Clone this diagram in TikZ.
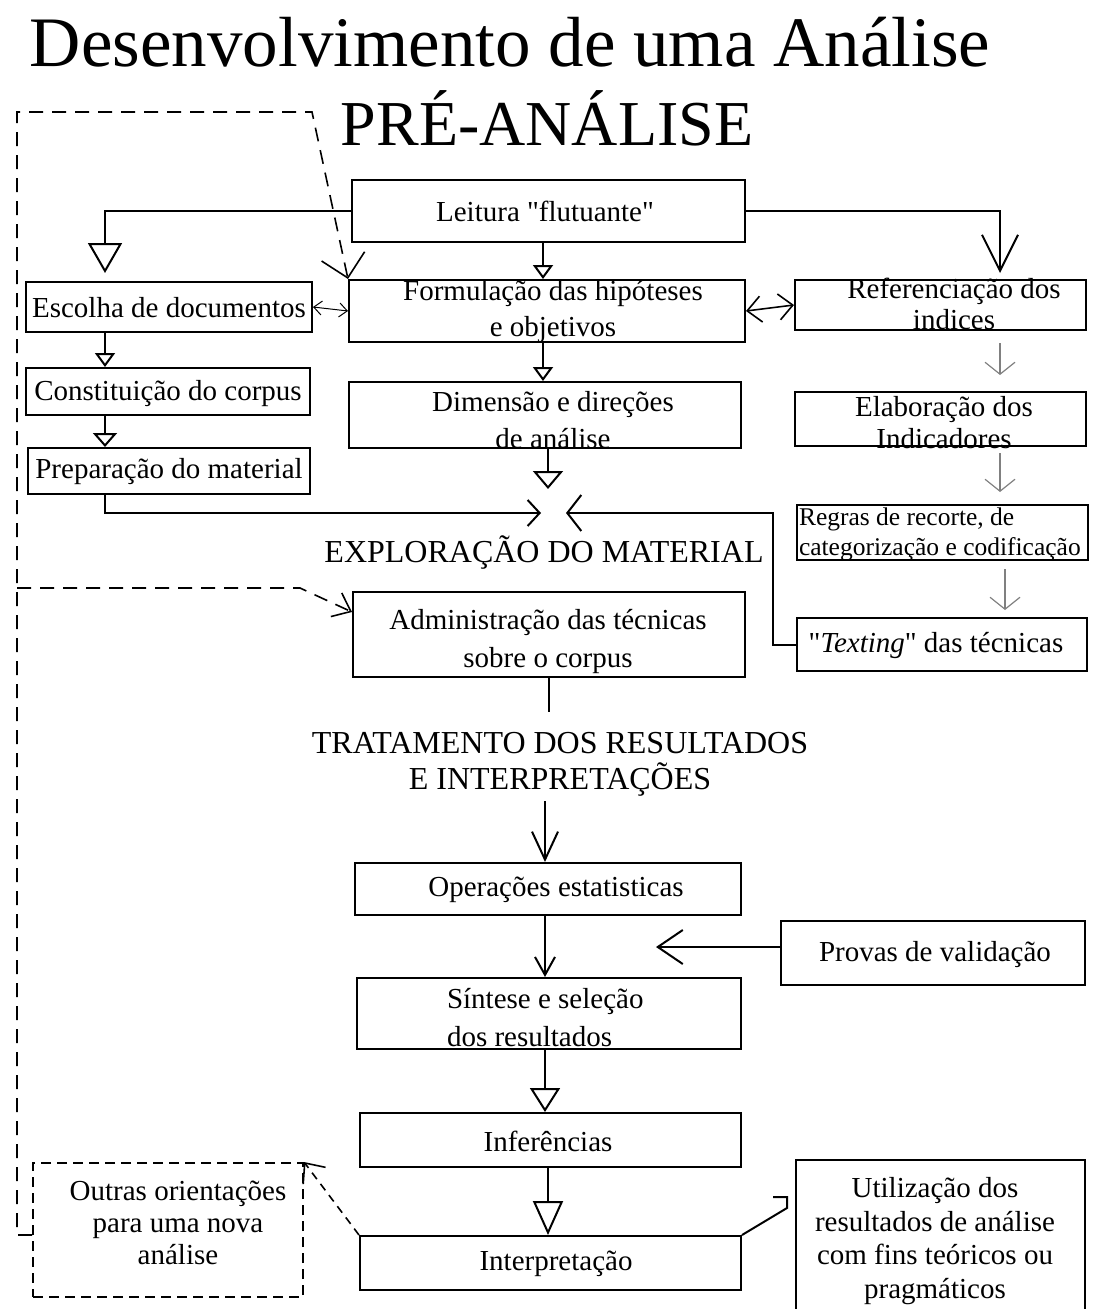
\documentclass[tikz,border=0pt]{standalone}
\usepackage{fontspec}
\setmainfont{Liberation Serif}
\usetikzlibrary{arrows.meta,calc}

\begin{document}
\begin{tikzpicture}[x=1pt,y=-1pt,line width=2pt,
    box/.style={draw,rectangle,inner sep=0pt},
    txt/.style={font=\fontsize{29}{36}\selectfont,align=center,inner sep=0pt},
    head/.style={font=\fontsize{32}{36}\selectfont,align=center,inner sep=0pt},
    loop/.style={dash pattern=on 14pt off 9pt}]
    \useasboundingbox (0,0) rectangle (1104,1309);

    % titles
    \node[font=\fontsize{71}{71}\selectfont,anchor=base,inner sep=0pt] (titulo) at (510,66) {Desenvolvimento de uma Análise};
    \node[font=\fontsize{64}{64}\selectfont,anchor=base,inner sep=0pt] (preanalise) at (547,145) {PRÉ-ANÁLISE};

    % pre-analysis boxes
    \node[box,minimum width=393pt,minimum height=62pt] (lei) at (548.5,211) {};
    \node[txt] (leit) at (545,211) {Leitura \textquotedbl flutuante\textquotedbl};
    \node[box,minimum width=286pt,minimum height=50pt] (esc) at (169,307) {};
    \node[txt] (esct) at (169,308) {Escolha de documentos};
    \node[box,minimum width=396pt,minimum height=62pt] (form) at (547,311) {};
    \node[txt] (formt) at (553,312) {Formulação das hipóteses\\e objetivos};
    \node[box,minimum width=291pt,minimum height=50pt] (ref) at (940.5,305) {};
    \node[txt,font=\fontsize{29}{31}\selectfont] (reft) at (954,304) {Referenciação dos\\indices};
    \node[box,minimum width=284pt,minimum height=47pt] (con) at (168,391.5) {};
    \node[txt] (cont) at (168,394) {Constituição do corpus};
    \node[box,minimum width=392pt,minimum height=66pt] (dim) at (545,415) {};
    \node[txt,font=\fontsize{29}{37}\selectfont] (dimt) at (553,420) {Dimensão e direções\\de análise};
    \node[box,minimum width=291pt,minimum height=54pt] (ela) at (940.5,419) {};
    \node[txt,font=\fontsize{29}{32}\selectfont] (elat) at (944,423) {Elaboração dos\\Indicadores};
    \node[box,minimum width=282pt,minimum height=46pt] (pre) at (169,471) {};
    \node[txt] (pret) at (169,472) {Preparação do material};
    \node[box,minimum width=291pt,minimum height=55pt] (reg) at (942.5,532.5) {};
    \node[txt,font=\fontsize{25.5}{30}\selectfont,align=left,anchor=west] (regt) at (798,534) {Regras de recorte, de\\categorização e codificação};

    % exploration
    \node[head,anchor=base] (expl) at (544,562) {EXPLORAÇÃO DO MATERIAL};
    \node[box,minimum width=392pt,minimum height=85pt] (adm) at (549,634.5) {};
    \node[txt,font=\fontsize{29}{38}\selectfont] (admt) at (548,641) {Administração das técnicas\\sobre o corpus};
    \node[box,minimum width=290pt,minimum height=53pt] (tex) at (942,644.5) {};
    \node[txt] (text) at (936,645) {\textquotedbl\textit{Texting}\textquotedbl\ das técnicas};

    % treatment
    \node[head] (trat) at (560,764) {TRATAMENTO DOS RESULTADOS\\E INTERPRETAÇÕES};
    \node[box,minimum width=386pt,minimum height=52pt] (ope) at (548,889) {};
    \node[txt] (opet) at (556,890) {Operações estatisticas};
    \node[box,minimum width=304pt,minimum height=64pt] (pro) at (933,953) {};
    \node[txt] (prot) at (935,955) {Provas de validação};
    \node[box,minimum width=384pt,minimum height=71pt] (sin) at (549,1013.5) {};
    \node[txt,font=\fontsize{29}{38}\selectfont,align=left,anchor=west] (sint) at (446,1018) {Síntese e seleção\\dos resultados};
    \node[box,minimum width=381pt,minimum height=54pt] (inf) at (550.5,1140) {};
    \node[txt] (inft) at (548,1141) {Inferências};
    \node[box,minimum width=381pt,minimum height=54pt] (int) at (550.5,1263) {};
    \node[txt] (intt) at (556,1264) {Interpretação};
    \node[box,dash pattern=on 10pt off 6pt,minimum width=270pt,minimum height=134pt] (out) at (168,1230) {};
    \node[txt,font=\fontsize{29}{32}\selectfont] (outt) at (178,1223) {Outras orientações\\para uma nova\\análise};
    \node[box,minimum width=289pt,minimum height=170pt] (uti) at (940.5,1245) {};
    \node[txt,font=\fontsize{29}{33.5}\selectfont] (utit) at (935,1241) {Utilização dos\\resultados de análise\\com fins teóricos ou\\pragmáticos};

    % free ends
    \coordinate (escin) at (105,273);
    \coordinate (refin) at (1000,273);
    \coordinate (dimout) at (548,489);
    \coordinate (jl) at (541,513);
    \coordinate (jr) at (566,513);
    \coordinate (admout) at (549,712);
    \coordinate (proin) at (656,947);
    \coordinate (utiin) at (787,1208);

    % pre-analysis connectors
    \draw[-{Triangle[open,length=30pt,width=34pt]}] (lei.west) -| (escin);
    \draw[-{Straight Barb[length=36pt,width=36pt]}] (lei.east) -| (refin);
    \draw[-{Triangle[open,length=14pt,width=20pt]}] (lei.south -| 543,0) -- (form.north -| 543,0);
    \draw[line width=1pt,{Straight Barb[length=8pt,width=14pt]}-{Straight Barb[length=8pt,width=14pt]}] (esc.east) -- (form.west);
    \draw[line width=1.6pt,{Straight Barb[length=14pt,width=26pt]}-{Straight Barb[length=14pt,width=26pt]}] (form.east) -- (ref.west);
    \draw[-{Triangle[open,length=14pt,width=20pt]}] (form.south -| 543,0) -- (dim.north -| 543,0);
    \draw[-{Triangle[open,length=18pt,width=30pt]}] (dim.south -| dimout) -- (dimout);
    \draw[-{Triangle[open,length=14pt,width=20pt]}] (esc.south -| escin) -- (con.north -| escin);
    \draw[-{Triangle[open,length=14pt,width=24pt]}] (con.south -| escin) -- (pre.north -| escin);
    \draw[line width=1.2pt,gray,shorten <=12pt,-{Straight Barb[length=12pt,width=30pt]}] (ref.south -| refin) -- ++(0,44);
    \draw[line width=1.2pt,gray,shorten <=6pt,-{Straight Barb[length=12pt,width=30pt]}] (ela.south -| refin) -- ++(0,45);
    \draw[line width=1.2pt,gray,shorten <=8pt,-{Straight Barb[length=12pt,width=30pt]}] (reg.south -| 1005,0) -- ++(0,49);

    % into exploration
    \draw[-{Straight Barb[length=12pt,width=26pt]}] (pre.south -| escin) |- (jl);
    \draw[-{Straight Barb[length=14pt,width=36pt]}] (tex.west) -- (773,644.5) |- (jr);
    \draw (adm.south) -- (admout);

    % treatment connectors
    \draw[shorten <=4pt,-{Straight Barb[length=28pt,width=26pt]}] (trat.south -| 545,0) -- (ope.north -| 545,0);
    \draw[-{Straight Barb[length=18pt,width=20pt]}] (ope.south -| 545,0) -- (sin.north -| 545,0);
    \draw[-{Straight Barb[length=25pt,width=34pt]}] (pro.west |- proin) -- (proin);
    \draw[-{Triangle[open,length=24pt,width=30pt]}] (sin.south -| 545,0) -- (inf.north -| 545,0);
    \draw[-{Triangle[open,length=34pt,width=30pt]}] (inf.south -| 548,0) -- (int.north -| 548,0);
    \draw[line width=1.6pt,dash pattern=on 8pt off 6pt,-{Straight Barb[length=16pt,width=28pt]}] (int.north west) -- (out.north east);
    \draw (int.north east) -- (utiin) -- ++(0,-11) -- ++(-14,0);

    % feedback loop
    \draw[line width=1.6pt,loop,-{Straight Barb[length=22pt,width=44pt]}] (out.west |- 0,1235) -- (17,1235) -- (17,112) -- (312,112) -- (form.north west);
    \draw[line width=1.6pt,loop,-{Straight Barb[length=16pt,width=26pt]}] (17,588) -- (300,588) -- (adm.west |- 0,612);
\end{tikzpicture}
\end{document}
